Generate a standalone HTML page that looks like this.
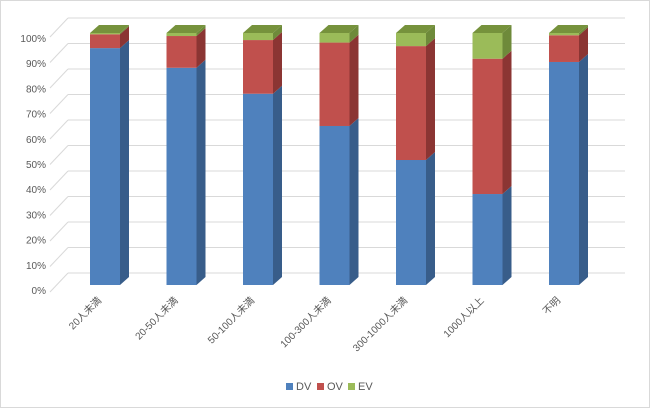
<!DOCTYPE html>
<html><head><meta charset="utf-8"><style>
body{margin:0;background:#fff;}
svg{display:block;font-family:"Liberation Sans","Noto Sans CJK JP",sans-serif;}
</style></head><body>
<svg id="chart" width="650" height="408">
<rect x="0.5" y="0.5" width="649" height="407" fill="#fff" stroke="#d9d9d9"/>
<g id="grid"></g>
<g id="ylabels"></g>
<g id="bars"></g>
<g id="xlabels"></g>
<g font-size="11" fill="#595959">
<g><rect x="286" y="383" width="7" height="7" fill="#4f81bd"/><text x="296" y="390">DV</text></g>
<g><rect x="317" y="383" width="7" height="7" fill="#c0504d"/><text x="327" y="390">OV</text></g>
<g><rect x="348" y="383" width="7" height="7" fill="#9bbb59"/><text x="358" y="390">EV</text></g>
</g>
</svg>
<script>
const categories=["20人未満","20-50人未満","50-100人未満","100-300人未満","300-1000人未満","1000人以上","不明"];
const dv=[94,86.2,75.9,63.1,49.6,36.1,88.5];
const ov=[5.5,12.6,21.3,33.1,45.2,53.7,10.6];
const ev=[0.5,1.2,2.8,3.8,5.2,10.2,0.9];
const yTicks=[0,10,20,30,40,50,60,70,80,90,100];
const NS="http://www.w3.org/2000/svg";
function mk(t,a,p){const e=document.createElementNS(NS,t);for(const k in a)e.setAttribute(k,a[k]);p.appendChild(e);return e;}
const y0=285,H=252,DX=9,DY=8;
const yS=v=>y0-v/100*H;
const xC=i=>105+i*76.5;
const grid=document.getElementById('grid'),yl=document.getElementById('ylabels');
yTicks.forEach(v=>{
 const gy=273-v*2.55;
 const l=mk('line',{x1:68,x2:625,y1:gy,y2:gy,stroke:'#d9d9d9'},grid);
 
 
 const d=mk('line',{x1:50,y1:gy+19,x2:68,y2:gy,stroke:'#d9d9d9'},grid);
 
 
 const t=mk('text',{x:46,y:yS(v)+9,'text-anchor':'end','font-size':'10',fill:'#595959'},yl);
 t.textContent=v+'%';
 
 
});
const bars=document.getElementById('bars'),xl=document.getElementById('xlabels');
const cols=[['#4f81bd','#385d8a','#5b8dc9'],['#c0504d','#8b3533','#c75f5c'],['#9bbb59','#6e8a3a','#76923c']];
const names=['dv','ov','ev'];
categories.forEach((c,i)=>{
 const x=xC(i)-15,w=30;
 let base=0;
 [dv[i],ov[i],ev[i]].forEach((v,s)=>{
  const yb=yS(base),yt=yS(base+v);
  const g=mk('g',{},bars);
  
  
  mk('rect',{x:x,y:yt,width:w,height:yb-yt,fill:cols[s][0]},g);
  mk('polygon',{points:`${x+w},${yt} ${x+w+DX},${yt-DY} ${x+w+DX},${yb-DY} ${x+w},${yb}`,fill:cols[s][1]},g);
  base+=v;
 });
 const yt=yS(base),topc=cols[2][2];
 const tp=mk('polygon',{points:`${x},${yt} ${x+DX},${yt-DY} ${x+w+DX},${yt-DY} ${x+w},${yt}`,fill:topc},bars);
 
 
 const tx=xC(i)-3,ty=301;
 const t=mk('text',{x:tx,y:ty,'text-anchor':'end','font-size':'10',fill:'#595959',transform:`rotate(-45 ${tx} ${ty})`},xl);
 t.textContent=c;
 
 
});
</script>
</body></html>
